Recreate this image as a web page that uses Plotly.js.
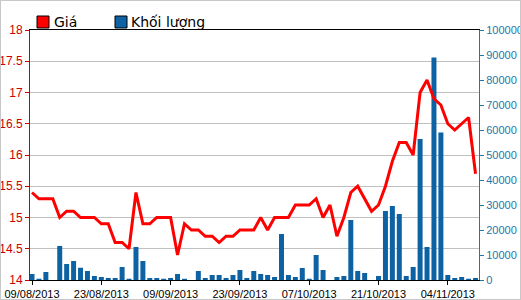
<!DOCTYPE html>
<html>
<head>
<meta charset="utf-8">
<script src="https://cdn.plot.ly/plotly-3.0.1.min.js"></script>
<style>
html,body{margin:0;padding:0;background:#fff;}
#wrap{position:relative;width:521px;height:300px;}
#chart{width:521px;height:300px;}
#frame{position:absolute;left:0;top:0;width:519px;height:298px;border:1px solid #c8c8c8;pointer-events:none;}
</style>
</head>
<body>
<div id="wrap"><div id="chart"></div><div id="frame"></div></div>
<script>
var dates = ["09/08/2013","12/08/2013","13/08/2013","14/08/2013","15/08/2013","16/08/2013","19/08/2013","20/08/2013","21/08/2013","22/08/2013",
"23/08/2013","26/08/2013","27/08/2013","28/08/2013","29/08/2013","30/08/2013","03/09/2013","04/09/2013","05/09/2013","06/09/2013",
"09/09/2013","10/09/2013","11/09/2013","12/09/2013","13/09/2013","16/09/2013","17/09/2013","18/09/2013","19/09/2013","20/09/2013",
"23/09/2013","24/09/2013","25/09/2013","26/09/2013","27/09/2013","30/09/2013","01/10/2013","02/10/2013","03/10/2013","04/10/2013",
"07/10/2013","08/10/2013","09/10/2013","10/10/2013","11/10/2013","14/10/2013","15/10/2013","16/10/2013","17/10/2013","18/10/2013",
"21/10/2013","22/10/2013","23/10/2013","24/10/2013","25/10/2013","28/10/2013","29/10/2013","30/10/2013","31/10/2013","01/11/2013",
"04/11/2013","05/11/2013","06/11/2013","07/11/2013","08/11/2013"];

var price = [15.4,15.3,15.3,15.3,15.0,15.1,15.1,15.0,15.0,15.0,
14.9,14.9,14.6,14.6,14.5,15.4,14.9,14.9,15.0,15.0,
15.0,14.4,14.9,14.8,14.8,14.7,14.7,14.6,14.7,14.7,
14.8,14.8,14.8,15.0,14.8,15.0,15.0,15.0,15.2,15.2,
15.2,15.3,15.0,15.2,14.7,15.0,15.4,15.5,15.3,15.1,
15.2,15.5,15.9,16.2,16.2,16.0,17.0,17.2,16.9,16.8,
16.5,16.4,16.5,16.6,15.7];

var volume = [2400,500,3200,0,13600,6400,7600,4900,3600,1600,
1200,800,800,5200,500,13200,7600,800,800,500,
800,2400,500,0,3600,800,2000,2000,800,2000,
4000,800,3600,2400,2000,1200,18400,2000,1200,4800,
500,10000,4000,0,1200,1600,24000,3600,2800,0,
1600,27600,29600,26400,1600,5200,56400,13200,89000,59000,
2000,800,1200,500,800];

var tickDates = ["09/08/2013","23/08/2013","09/09/2013","23/09/2013","07/10/2013","21/10/2013","04/11/2013"];
var legendNames = ["Giá","Khối lượng"];
var priceColor = "#ff0000";
var volColor = "#0d62a3";

var traces = [
  {x: dates, y: volume, type: "bar", yaxis: "y", marker: {color: volColor}, name: legendNames[1], hoverinfo: "none"},
  {x: dates, y: price, type: "scatter", mode: "lines", yaxis: "y2", line: {color: priceColor, width: 3}, name: legendNames[0], hoverinfo: "none"}
];

function px(x){return (x-30)/449;}
function py(y){return (280-y)/250;}

var layout = {
  width: 521, height: 300,
  margin: {l: 30, r: 42, t: 30, b: 20, pad: 0},
  paper_bgcolor: "#fff", plot_bgcolor: "#fff",
  showlegend: false,
  bargap: 0.28,
  font: {family: "Liberation Sans, Arial, sans-serif", size: 11, color: "#000"},
  xaxis: {
    type: "category", range: [-0.29, 64.5],
    tickvals: tickDates, ticktext: tickDates,
    ticks: "outside", ticklen: 4, tickcolor: "#000",
    showline: true, linecolor: "#000", linewidth: 1, mirror: true,
    showgrid: false, tickfont: {size: 11, color: "#000"}, tickangle: 0
  },
  yaxis: {
    side: "right", range: [0, 100000], dtick: 10000, tick0: 0,
    showgrid: false, zeroline: false,
    showline: true, linecolor: "#2277a8", linewidth: 1,
    ticks: "outside", ticklen: 4, tickcolor: "#2277a8",
    tickfont: {size: 11, color: "#2277a8"}, separatethousands: false, tickformat: "d"
  },
  yaxis2: {
    side: "left", overlaying: "y", range: [14, 18], dtick: 0.5, tick0: 14,
    showgrid: true, gridcolor: "#c0c0c0", gridwidth: 1, zeroline: false,
    showline: true, linecolor: "#cc0000", linewidth: 1,
    ticks: "outside", ticklen: 4, tickcolor: "#cc0000",
    tickfont: {size: 12, color: "#cc0000"}
  },
  shapes: [
    {type: "rect", xref: "paper", yref: "paper", x0: px(37), x1: px(49), y0: py(28), y1: py(16), fillcolor: priceColor, line: {color: "#000", width: 1}},
    {type: "rect", xref: "paper", yref: "paper", x0: px(115), x1: px(127), y0: py(28), y1: py(16), fillcolor: volColor, line: {color: "#000", width: 1}}
  ],
  annotations: [
    {text: legendNames[0], xref: "paper", yref: "paper", x: px(52), y: py(22), xanchor: "left", yanchor: "middle", showarrow: false, font: {family: "DejaVu Sans", size: 14, color: "#000"}},
    {text: legendNames[1], xref: "paper", yref: "paper", x: px(129), y: py(22), xanchor: "left", yanchor: "middle", showarrow: false, font: {family: "DejaVu Sans", size: 14, color: "#000"}}
  ]
};

Plotly.newPlot("chart", traces, layout, {staticPlot: true, displayModeBar: false});
</script>
</body>
</html>
